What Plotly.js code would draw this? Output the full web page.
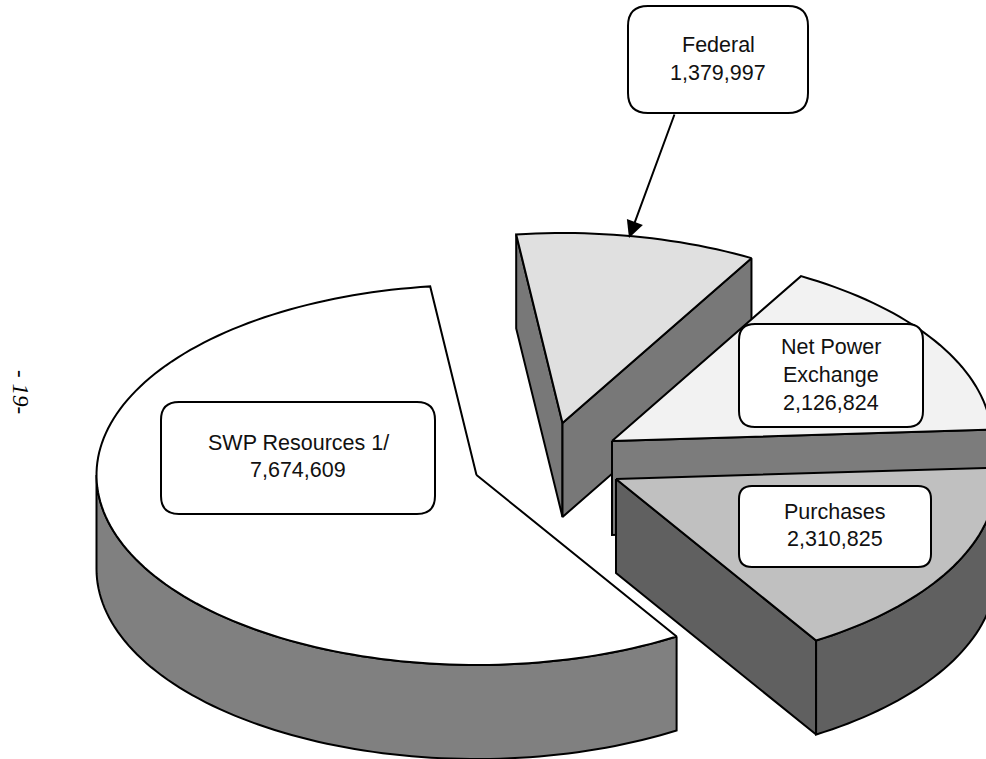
<!DOCTYPE html>
<html>
<head>
<meta charset="utf-8">
<script src="https://cdn.plot.ly/plotly-3.0.1.min.js"></script>
<style>html,body{margin:0;padding:0;background:#fff}#chart{width:986px;height:759px}</style>
</head>
<body>
<div id="chart"></div>
<script>
// Data
var categories = ["Federal", "Net Power Exchange", "Purchases", "SWP Resources 1/"];
var values = [1379997, 2126824, 2310825, 7674609];

// Labels split into the lines the callouts show
var labelLines = [["Federal"], ["Net Power", "Exchange"], ["Purchases"], ["SWP Resources 1/"]];

// Styling and projection
var startAngle = -7.0, radiusX = 380, radiusY = 190, depth = 94;
var centres = [[562.5, 423], [612, 441], [616, 479], [476.5, 475]];
var topColours = ["#e0e0e0", "#f2f2f2", "#c0c0c0", "#ffffff"];
var wallColours = ["#787878", "#7c7c7c", "#606060", "#808080"];
var boxes = [
  {x0: 628, x1: 808, y0: 6, y1: 113, r: 20, lines: [44.5, 72.5]},
  {x0: 739, x1: 923, y0: 324, y1: 427, r: 16, lines: [346.5, 374.5, 402.5]},
  {x0: 739, x1: 931, y0: 486, y1: 567, r: 13, lines: [511.5, 538.5]},
  {x0: 161, x1: 435, y0: 402, y1: 514, r: 18, lines: [442.5, 469.5]}
];

var total = values.reduce(function (a, b) { return a + b; }, 0);

function pt(c, deg, dz) {
  var t = deg * Math.PI / 180;
  return [c[0] + radiusX * Math.sin(t), c[1] - radiusY * Math.cos(t) + (dz || 0)];
}
function arc(c, a0, a1, dz) {
  var n = Math.max(2, Math.ceil(Math.abs(a1 - a0) / 1.5)), out = [];
  for (var i = 0; i <= n; i++) out.push(pt(c, a0 + (a1 - a0) * i / n, dz));
  return out;
}
function poly(points, colour) {
  var first = points[0];
  var closed = points.concat([first]);
  return {
    type: "scatter", mode: "lines", fill: "toself", fillcolor: colour,
    x: closed.map(function (p) { return p[0]; }),
    y: closed.map(function (p) { return p[1]; }),
    line: {color: "#000", width: 2, simplify: false},
    hoverinfo: "skip", showlegend: false
  };
}
function radialWall(c, deg, colour) {
  var e = pt(c, deg), e2 = pt(c, deg, depth);
  return poly([c, e, e2, [c[0], c[1] + depth]], colour);
}
function arcWall(c, a0, a1, colour) {
  return poly(arc(c, a0, a1, 0).concat(arc(c, a1, a0, depth)), colour);
}
function topFace(c, a0, a1, colour) {
  return poly([c].concat(arc(c, a0, a1, 0)), colour);
}

// Slice angles come from the values
var spans = [], cursor = startAngle;
values.forEach(function (v) {
  var a1 = cursor + v / total * 360;
  spans.push([cursor, a1]);
  cursor = a1;
});

var traces = [];
// SWP Resources
traces.push(arcWall(centres[3], spans[3][0], 270, wallColours[3]));
traces.push(topFace(centres[3], spans[3][0], spans[3][1], topColours[3]));
// Federal
traces.push(radialWall(centres[0], spans[0][0], wallColours[0]));
traces.push(radialWall(centres[0], spans[0][1], wallColours[0]));
traces.push(topFace(centres[0], spans[0][0], spans[0][1], topColours[0]));
// Net Power Exchange
traces.push(radialWall(centres[1], spans[1][1], wallColours[1]));
traces.push(topFace(centres[1], spans[1][0], spans[1][1], topColours[1]));
// Purchases
traces.push(radialWall(centres[2], spans[2][1], wallColours[2]));
traces.push(arcWall(centres[2], spans[2][0], spans[2][1], wallColours[2]));
traces.push(topFace(centres[2], spans[2][0], spans[2][1], topColours[2]));

function roundRect(b) {
  var r = b.r;
  return "M" + (b.x0 + r) + "," + b.y0 + " L" + (b.x1 - r) + "," + b.y0 +
    " Q" + b.x1 + "," + b.y0 + " " + b.x1 + "," + (b.y0 + r) +
    " L" + b.x1 + "," + (b.y1 - r) +
    " Q" + b.x1 + "," + b.y1 + " " + (b.x1 - r) + "," + b.y1 +
    " L" + (b.x0 + r) + "," + b.y1 +
    " Q" + b.x0 + "," + b.y1 + " " + b.x0 + "," + (b.y1 - r) +
    " L" + b.x0 + "," + (b.y0 + r) +
    " Q" + b.x0 + "," + b.y0 + " " + (b.x0 + r) + "," + b.y0 + " Z";
}

var shapes = boxes.map(function (b) {
  return {type: "path", xref: "x", yref: "y", path: roundRect(b),
    fillcolor: "#fff", line: {color: "#000", width: 2}, layer: "above"};
});

var annotations = [];
boxes.forEach(function (b, i) {
  var lines = labelLines[i].concat([values[i].toLocaleString("en-US")]);
  lines.forEach(function (text, j) {
    annotations.push({
      x: (b.x0 + b.x1) / 2, y: b.lines[j], xref: "x", yref: "y", text: text,
      showarrow: false, xanchor: "center", yanchor: "middle",
      font: {family: "Liberation Sans, Arial, sans-serif", size: 21.5, color: "#111"}
    });
  });
});
// Federal leader arrow
annotations.push({
  x: 629, y: 238, ax: 675, ay: 113, xref: "x", yref: "y", axref: "x", ayref: "y",
  text: "", showarrow: true, arrowhead: 2, arrowsize: 1.7, arrowwidth: 2, arrowcolor: "#000",
  standoff: 0, startstandoff: 0
});
// Page number
annotations.push({
  x: 21, y: 392, xref: "x", yref: "y", text: "<i>- 19-</i>", showarrow: false,
  textangle: 90, xanchor: "center", yanchor: "middle",
  font: {family: "Liberation Serif, Times New Roman, serif", size: 23, color: "#000"}
});

Plotly.newPlot("chart", traces, {
  width: 986, height: 759,
  margin: {l: 0, r: 0, t: 0, b: 0, pad: 0},
  paper_bgcolor: "#fff", plot_bgcolor: "#fff",
  showlegend: false,
  xaxis: {range: [0, 986], visible: false, fixedrange: true},
  yaxis: {range: [759, 0], visible: false, fixedrange: true},
  shapes: shapes, annotations: annotations
}, {displayModeBar: false, staticPlot: true});
</script>
</body>
</html>
